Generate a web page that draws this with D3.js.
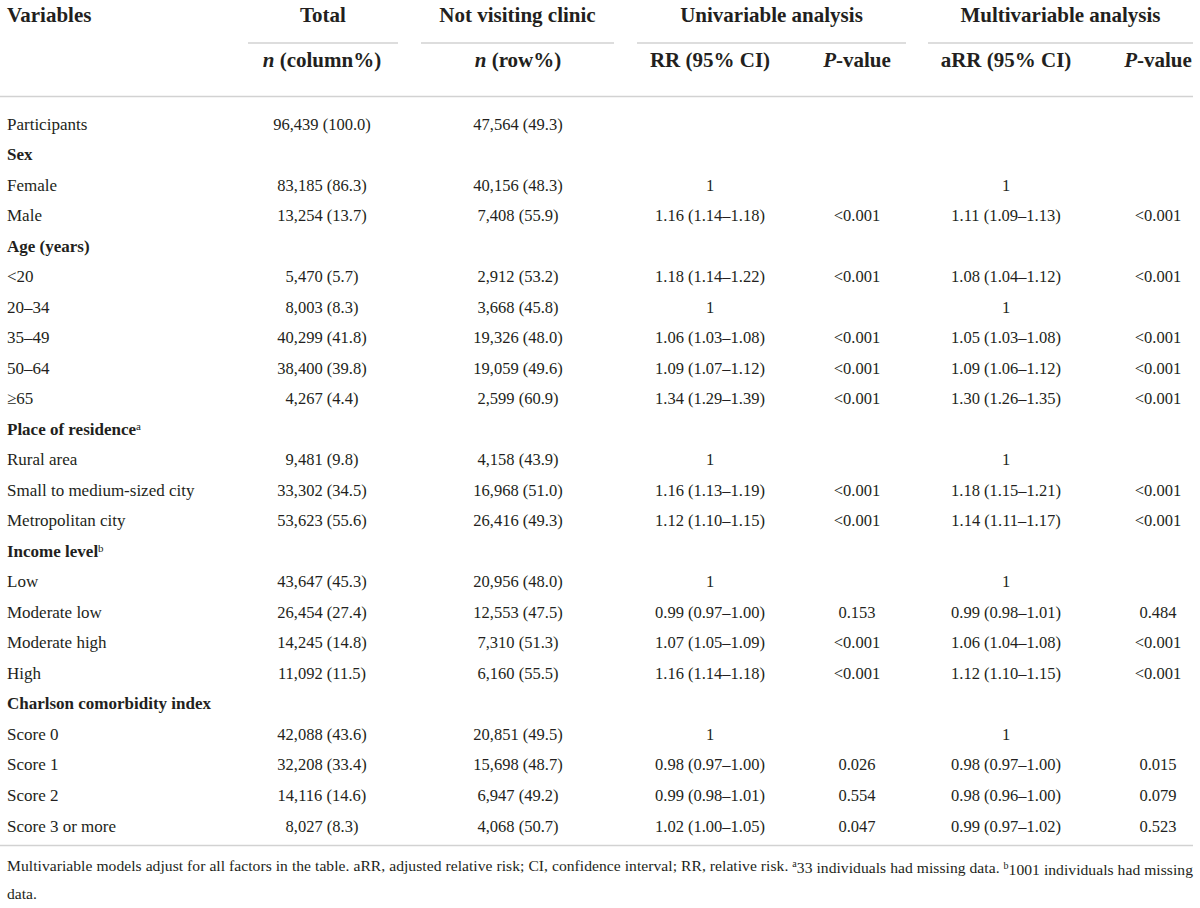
<!DOCTYPE html>
<html>
<head>
<meta charset="utf-8">
<script src="https://cdn.jsdelivr.net/npm/d3@7"></script>
<style>
  body { margin: 0; background: #fff; }
  svg text { font-family: "Liberation Serif", "DejaVu Serif", serif; fill: #231f20; }
</style>
</head>
<body>
<svg id="tbl" width="1200" height="908"></svg>
<script>
// rows of the table (label column)
var variables = ["Participants", "Sex", "Female", "Male", "Age (years)", "<20", "20\u201334", "35\u201349", "50\u201364", "\u226565",
    "Place of residence", "Rural area", "Small to medium-sized city", "Metropolitan city",
    "Income level", "Low", "Moderate low", "Moderate high", "High",
    "Charlson comorbidity index", "Score 0", "Score 1", "Score 2", "Score 3 or more"];
var headings = ["Sex", "Age (years)", "Place of residence", "Income level", "Charlson comorbidity index"];
var noteMarks = {"Place of residence": "a", "Income level": "b"};

// values per column
var totalN = ["96,439 (100.0)", "", "83,185 (86.3)", "13,254 (13.7)", "", "5,470 (5.7)", "8,003 (8.3)", "40,299 (41.8)", "38,400 (39.8)", "4,267 (4.4)",
    "", "9,481 (9.8)", "33,302 (34.5)", "53,623 (55.6)",
    "", "43,647 (45.3)", "26,454 (27.4)", "14,245 (14.8)", "11,092 (11.5)",
    "", "42,088 (43.6)", "32,208 (33.4)", "14,116 (14.6)", "8,027 (8.3)"];
var notVisiting = ["47,564 (49.3)", "", "40,156 (48.3)", "7,408 (55.9)", "", "2,912 (53.2)", "3,668 (45.8)", "19,326 (48.0)", "19,059 (49.6)", "2,599 (60.9)",
    "", "4,158 (43.9)", "16,968 (51.0)", "26,416 (49.3)",
    "", "20,956 (48.0)", "12,553 (47.5)", "7,310 (51.3)", "6,160 (55.5)",
    "", "20,851 (49.5)", "15,698 (48.7)", "6,947 (49.2)", "4,068 (50.7)"];
var rrCI = ["", "", "1", "1.16 (1.14\u20131.18)", "", "1.18 (1.14\u20131.22)", "1", "1.06 (1.03\u20131.08)", "1.09 (1.07\u20131.12)", "1.34 (1.29\u20131.39)",
    "", "1", "1.16 (1.13\u20131.19)", "1.12 (1.10\u20131.15)",
    "", "1", "0.99 (0.97\u20131.00)", "1.07 (1.05\u20131.09)", "1.16 (1.14\u20131.18)",
    "", "1", "0.98 (0.97\u20131.00)", "0.99 (0.98\u20131.01)", "1.02 (1.00\u20131.05)"];
var rrP = ["", "", "", "<0.001", "", "<0.001", "", "<0.001", "<0.001", "<0.001",
    "", "", "<0.001", "<0.001",
    "", "", "0.153", "<0.001", "<0.001",
    "", "", "0.026", "0.554", "0.047"];
var arrCI = ["", "", "1", "1.11 (1.09\u20131.13)", "", "1.08 (1.04\u20131.12)", "1", "1.05 (1.03\u20131.08)", "1.09 (1.06\u20131.12)", "1.30 (1.26\u20131.35)",
    "", "1", "1.18 (1.15\u20131.21)", "1.14 (1.11\u20131.17)",
    "", "1", "0.99 (0.98\u20131.01)", "1.06 (1.04\u20131.08)", "1.12 (1.10\u20131.15)",
    "", "1", "0.98 (0.97\u20131.00)", "0.98 (0.96\u20131.00)", "0.99 (0.97\u20131.02)"];
var arrP = ["", "", "", "<0.001", "", "<0.001", "", "<0.001", "<0.001", "<0.001",
    "", "", "<0.001", "<0.001",
    "", "", "0.484", "<0.001", "<0.001",
    "", "", "0.015", "0.079", "0.523"];

var groupTitles = ["Total", "Not visiting clinic", "Univariable analysis", "Multivariable analysis"];

var svg = d3.select("#tbl");
var left = 7, right = 1193;
var ruleColor = "#d2d2d2";

// centre x of every value column, and the spans of the group rules
var colX = [322, 518, 710, 857, 1006, 1158];
var columns = [totalN, notVisiting, rrCI, rrP, arrCI, arrP];
var groups = [[248, 398], [421, 614], [637, 906], [928, 1193]];

// row baselines
var y = d3.scalePoint().domain(d3.range(variables.length)).range([129.5, 831.5]);

// header row 1
svg.append("text").attr("x", left).attr("y", 22)
    .style("font-size", "21px").style("font-weight", "bold").text("Variables");
svg.selectAll("text.grp").data(groups).enter().append("text")
    .attr("class", "grp")
    .attr("x", function (d) { return (d[0] + d[1]) / 2; })
    .attr("y", 22)
    .attr("text-anchor", "middle")
    .style("font-size", "21px").style("font-weight", "bold")
    .text(function (d, i) { return groupTitles[i]; });
svg.selectAll("line.grp").data(groups).enter().append("line")
    .attr("class", "grp")
    .attr("x1", function (d) { return d[0]; }).attr("x2", function (d) { return d[1]; })
    .attr("y1", 43).attr("y2", 43)
    .attr("stroke", ruleColor).attr("stroke-width", 1.5);

// header row 2 (italic parts as tspans)
var subHeads = [
    [["n", true], [" (column%)", false]],
    [["n", true], [" (row%)", false]],
    [["RR (95% CI)", false]],
    [["P", true], ["-value", false]],
    [["aRR (95% CI)", false]],
    [["P", true], ["-value", false]]
];
var sh = svg.selectAll("text.sub").data(subHeads).enter().append("text")
    .attr("class", "sub")
    .attr("x", function (d, i) { return colX[i]; })
    .attr("y", 67)
    .attr("text-anchor", "middle")
    .style("font-size", "21px").style("font-weight", "bold");
sh.selectAll("tspan").data(function (d) { return d; }).enter().append("tspan")
    .style("font-style", function (d) { return d[1] ? "italic" : "normal"; })
    .text(function (d) { return d[0]; });

svg.append("line").attr("x1", 0).attr("x2", right).attr("y1", 96.5).attr("y2", 96.5)
    .attr("stroke", ruleColor).attr("stroke-width", 1.5);

// body: label column
var lab = svg.selectAll("text.lab").data(variables).enter().append("text")
    .attr("class", "lab")
    .attr("x", left)
    .attr("y", function (d, i) { return y(i); })
    .style("font-size", "17px")
    .style("font-weight", function (d) { return headings.indexOf(d) >= 0 ? "bold" : "normal"; })
    .text(function (d) { return d; });
lab.filter(function (d) { return noteMarks[d]; }).append("tspan")
    .attr("dy", "-0.45em").style("font-size", "11px").style("font-weight", "normal")
    .text(function (d) { return noteMarks[d]; });

// body: value columns
columns.forEach(function (col, c) {
    svg.selectAll("text.c" + c).data(col).enter().append("text")
        .attr("class", "c" + c)
        .attr("x", colX[c])
        .attr("y", function (d, i) { return y(i); })
        .attr("text-anchor", "middle")
        .style("font-size", "16.5px")
        .text(function (d) { return d; });
});

svg.append("line").attr("x1", 0).attr("x2", right).attr("y1", 845.5).attr("y2", 845.5)
    .attr("stroke", ruleColor).attr("stroke-width", 1.5);

// footnote
var foot = svg.append("text").attr("x", left).attr("y", 871)
    .attr("textLength", right - left).attr("lengthAdjust", "spacing")
    .style("font-size", "15.6px");
foot.append("tspan").text("Multivariable models adjust for all factors in the table. aRR, adjusted relative risk; CI, confidence interval; RR, relative risk. ");
foot.append("tspan").attr("dy", "-0.4em").style("font-size", "10px").text("a");
foot.append("tspan").attr("dy", "0.4em").text("33 individuals had missing data. ");
foot.append("tspan").attr("dy", "-0.4em").style("font-size", "10px").text("b");
foot.append("tspan").attr("dy", "0.4em").text("1001 individuals had missing");
svg.append("text").attr("x", left).attr("y", 899)
    .style("font-size", "15.6px").text("data.");
</script>
</body>
</html>
